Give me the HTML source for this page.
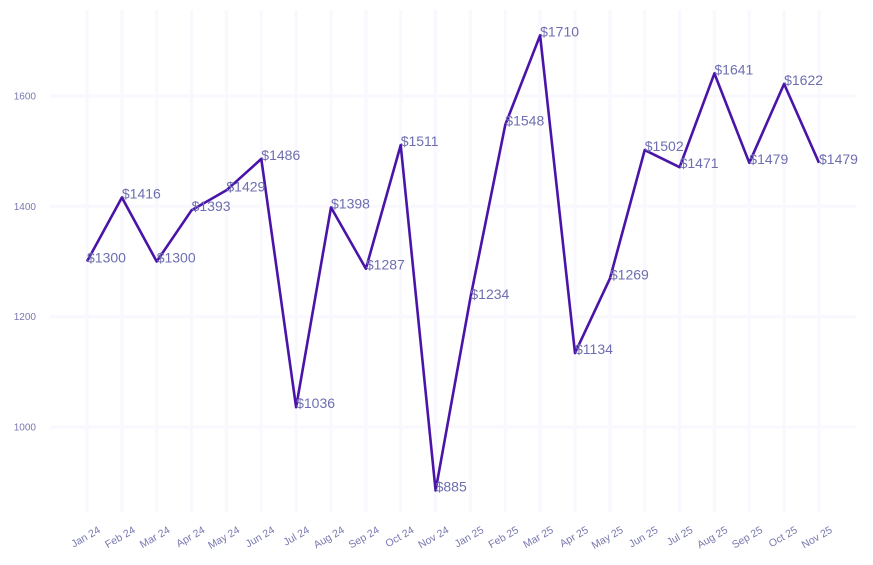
<!DOCTYPE html>
<html><head><meta charset="utf-8"><style>body{margin:0;background:#fff}svg{display:block}</style></head><body>
<svg width="873" height="565" xmlns="http://www.w3.org/2000/svg" font-family="Liberation Sans, sans-serif">
<g stroke="#f8f8fe" stroke-width="3">
<line x1="87" y1="10" x2="87" y2="512"/><line x1="121.9" y1="10" x2="121.9" y2="512"/><line x1="156.7" y1="10" x2="156.7" y2="512"/><line x1="191.6" y1="10" x2="191.6" y2="512"/><line x1="226.4" y1="10" x2="226.4" y2="512"/><line x1="261.3" y1="10" x2="261.3" y2="512"/><line x1="296.1" y1="10" x2="296.1" y2="512"/><line x1="331" y1="10" x2="331" y2="512"/><line x1="365.9" y1="10" x2="365.9" y2="512"/><line x1="400.7" y1="10" x2="400.7" y2="512"/><line x1="435.6" y1="10" x2="435.6" y2="512"/><line x1="470.4" y1="10" x2="470.4" y2="512"/><line x1="505.3" y1="10" x2="505.3" y2="512"/><line x1="540.1" y1="10" x2="540.1" y2="512"/><line x1="575" y1="10" x2="575" y2="512"/><line x1="609.9" y1="10" x2="609.9" y2="512"/><line x1="644.7" y1="10" x2="644.7" y2="512"/><line x1="679.6" y1="10" x2="679.6" y2="512"/><line x1="714.4" y1="10" x2="714.4" y2="512"/><line x1="749.3" y1="10" x2="749.3" y2="512"/><line x1="784.1" y1="10" x2="784.1" y2="512"/><line x1="819" y1="10" x2="819" y2="512"/>
<line x1="50" y1="427" x2="856" y2="427"/><line x1="50" y1="316.7" x2="856" y2="316.7"/><line x1="50" y1="206.3" x2="856" y2="206.3"/><line x1="50" y1="96" x2="856" y2="96"/>
</g>
<g font-size="10" fill="#7878b0" text-anchor="end">
<text x="36" y="430.5">1000</text><text x="36" y="320.2">1200</text><text x="36" y="209.8">1400</text><text x="36" y="99.5">1600</text>
</g>
<polyline fill="none" stroke="#4a14a8" stroke-width="2.6" stroke-linejoin="round" points="87,261.5 121.9,197.5 156.7,261.5 191.6,210.2 226.4,190.3 261.3,158.9 296.1,407.2 331,207.4 365.9,268.7 400.7,145.1 435.6,490.5 470.4,297.9 505.3,124.7 540.1,35.3 575,353.1 609.9,278.6 644.7,150.1 679.6,167.2 714.4,73.4 749.3,162.8 784.1,83.9 819,162.8"/>
<g font-size="14" fill="#6e6eb0">
<text x="87" y="262.5">$1300</text><text x="121.9" y="198.5">$1416</text><text x="156.7" y="262.5">$1300</text><text x="191.6" y="211.2">$1393</text><text x="226.4" y="191.3">$1429</text><text x="261.3" y="159.9">$1486</text><text x="296.1" y="408.2">$1036</text><text x="331" y="208.4">$1398</text><text x="365.9" y="269.7">$1287</text><text x="400.7" y="146.1">$1511</text><text x="435.6" y="491.5">$885</text><text x="470.4" y="298.9">$1234</text><text x="505.3" y="125.7">$1548</text><text x="540.1" y="36.3">$1710</text><text x="575" y="354.1">$1134</text><text x="609.9" y="279.6">$1269</text><text x="644.7" y="151.1">$1502</text><text x="679.6" y="168.2">$1471</text><text x="714.4" y="74.4">$1641</text><text x="749.3" y="163.8">$1479</text><text x="784.1" y="84.9">$1622</text><text x="819" y="163.8">$1479</text>
</g>
<g font-size="10.5" fill="#7878b0" text-anchor="end">
<text transform="translate(101,532) rotate(-30)">Jan 24</text><text transform="translate(135.9,532) rotate(-30)">Feb 24</text><text transform="translate(170.7,532) rotate(-30)">Mar 24</text><text transform="translate(205.6,532) rotate(-30)">Apr 24</text><text transform="translate(240.4,532) rotate(-30)">May 24</text><text transform="translate(275.3,532) rotate(-30)">Jun 24</text><text transform="translate(310.1,532) rotate(-30)">Jul 24</text><text transform="translate(345,532) rotate(-30)">Aug 24</text><text transform="translate(379.9,532) rotate(-30)">Sep 24</text><text transform="translate(414.7,532) rotate(-30)">Oct 24</text><text transform="translate(449.6,532) rotate(-30)">Nov 24</text><text transform="translate(484.4,532) rotate(-30)">Jan 25</text><text transform="translate(519.3,532) rotate(-30)">Feb 25</text><text transform="translate(554.1,532) rotate(-30)">Mar 25</text><text transform="translate(589,532) rotate(-30)">Apr 25</text><text transform="translate(623.9,532) rotate(-30)">May 25</text><text transform="translate(658.7,532) rotate(-30)">Jun 25</text><text transform="translate(693.6,532) rotate(-30)">Jul 25</text><text transform="translate(728.4,532) rotate(-30)">Aug 25</text><text transform="translate(763.3,532) rotate(-30)">Sep 25</text><text transform="translate(798.1,532) rotate(-30)">Oct 25</text><text transform="translate(833,532) rotate(-30)">Nov 25</text>
</g>
</svg>
</body></html>
